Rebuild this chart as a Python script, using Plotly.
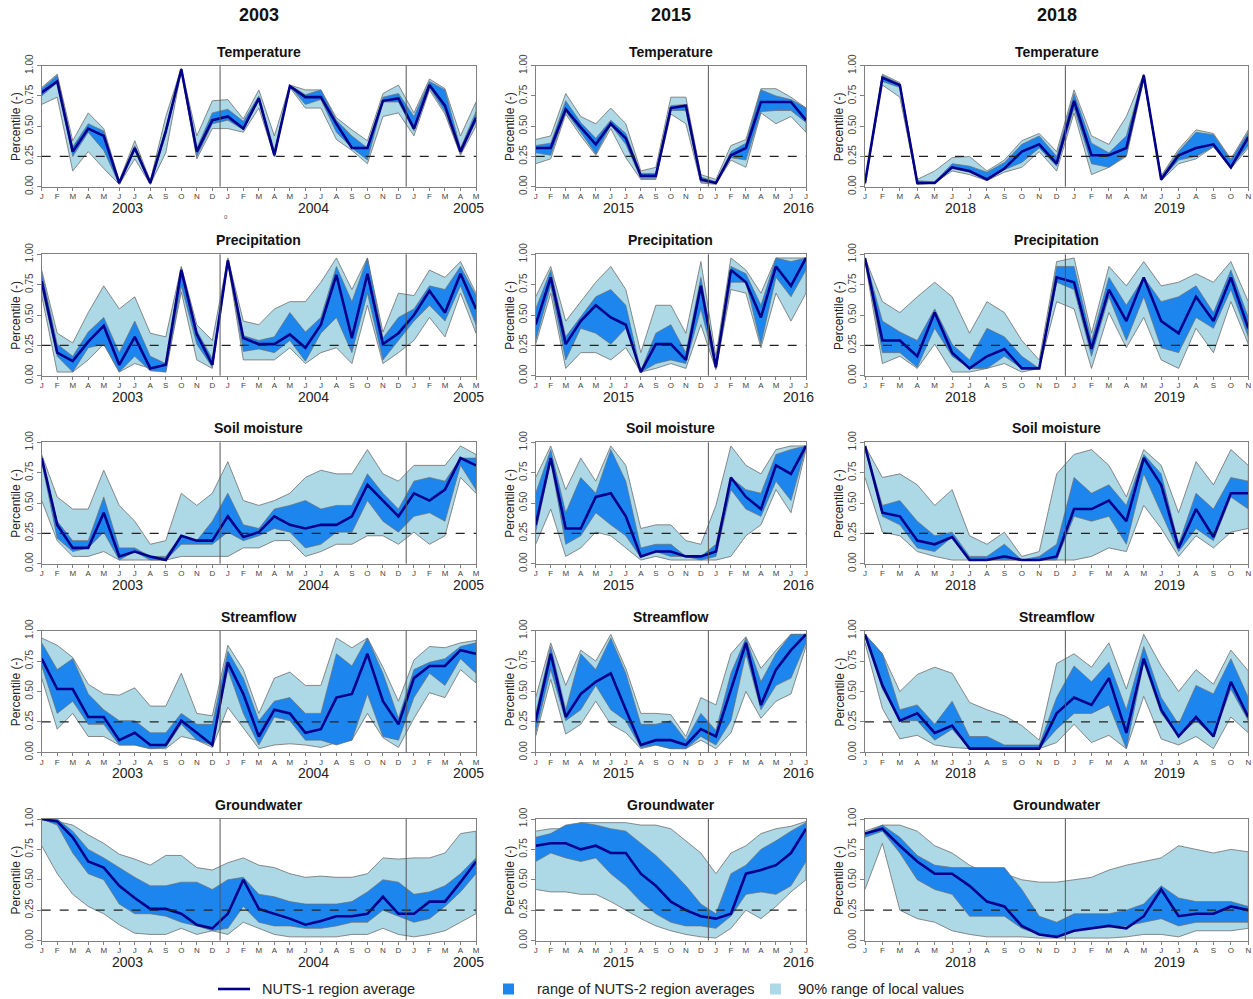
import plotly.graph_objects as go

# ---------------- month tick labels ----------------
MONTHS = list("JFMAMJJASOND")
months_2003 = MONTHS + MONTHS + list("JFMAM")
months_2015 = MONTHS + list("JFMAMJJ")
months_2018 = MONTHS + list("JFMAMJJASON")

column_years = ["2003", "2015", "2018"]
row_titles = ["Temperature", "Precipitation", "Soil moisture", "Streamflow", "Groundwater"]
year_labels_2003 = [("2003", 5.5), ("2004", 17.5), ("2005", 27.5)]
year_labels_2015 = [("2015", 5.5), ("2016", 17.5)]
year_labels_2018 = [("2018", 5.5), ("2019", 17.5)]
y_ticks = [0, 0.25, 0.5, 0.75, 1.0]
y_ticktext = ["0.00", "0.25", "0.50", "0.75", "1.00"]
threshold = 0.25

# ---------------- Temperature ----------------
temp03_avg = [0.78,0.87,0.29,0.48,0.42,0.03,0.32,0.03,0.46,0.97,0.29,0.55, 0.58,0.48,0.73,0.26,0.83,0.74,0.74,0.52,0.32,0.32,0.71,0.73, 0.48,0.84,0.67,0.29,0.57]
temp03_loc_hi = [0.82,0.93,0.38,0.61,0.48,0.05,0.38,0.05,0.58,0.98,0.42,0.71, 0.72,0.56,0.80,0.42,0.84,0.80,0.80,0.57,0.47,0.38,0.77,0.84, 0.61,0.89,0.81,0.42,0.70]
temp03_loc_lo = [0.68,0.74,0.13,0.29,0.15,0.02,0.23,0.02,0.28,0.96,0.23,0.48, 0.48,0.45,0.65,0.25,0.82,0.65,0.65,0.39,0.30,0.19,0.58,0.61, 0.42,0.80,0.60,0.26,0.50]
temp03_reg_hi = [0.81,0.92,0.33,0.52,0.46,0.04,0.34,0.04,0.48,0.97,0.32,0.61, 0.64,0.54,0.75,0.30,0.84,0.76,0.80,0.55,0.42,0.32,0.74,0.77, 0.58,0.87,0.80,0.32,0.62]
temp03_reg_lo = [0.75,0.86,0.25,0.45,0.30,0.02,0.30,0.02,0.43,0.96,0.25,0.52, 0.55,0.47,0.72,0.25,0.83,0.68,0.72,0.45,0.32,0.22,0.70,0.70, 0.46,0.82,0.62,0.27,0.54]

temp15_avg = [0.32,0.32,0.64,0.49,0.35,0.52,0.40,0.09,0.09,0.65,0.67,0.06, 0.03,0.26,0.32,0.70,0.70,0.70,0.55]
temp15_loc_hi = [0.39,0.42,0.77,0.58,0.52,0.65,0.52,0.13,0.16,0.74,0.74,0.10, 0.06,0.34,0.39,0.81,0.81,0.74,0.65]
temp15_loc_lo = [0.19,0.23,0.60,0.42,0.26,0.48,0.24,0.06,0.06,0.60,0.52,0.03, 0.02,0.22,0.16,0.61,0.52,0.58,0.45]
temp15_reg_hi = [0.34,0.36,0.71,0.53,0.40,0.55,0.44,0.11,0.11,0.67,0.68,0.08, 0.04,0.29,0.36,0.80,0.75,0.72,0.65]
temp15_reg_lo = [0.28,0.26,0.62,0.45,0.27,0.51,0.35,0.07,0.07,0.63,0.63,0.04, 0.03,0.24,0.22,0.62,0.63,0.63,0.53]

temp18_avg = [0.03,0.90,0.84,0.03,0.03,0.16,0.13,0.06,0.15,0.29,0.35,0.19, 0.71,0.26,0.26,0.32,0.92,0.06,0.26,0.32,0.35,0.16,0.41]
temp18_loc_hi = [0.04,0.93,0.86,0.06,0.13,0.24,0.25,0.13,0.22,0.38,0.44,0.29, 0.80,0.42,0.35,0.58,0.93,0.09,0.31,0.47,0.44,0.23,0.47]
temp18_loc_lo = [0.02,0.84,0.74,0.02,0.03,0.13,0.10,0.05,0.12,0.16,0.29,0.13, 0.61,0.10,0.16,0.25,0.88,0.05,0.19,0.23,0.33,0.15,0.32]
temp18_reg_hi = [0.04,0.92,0.85,0.05,0.04,0.19,0.17,0.12,0.20,0.35,0.42,0.25, 0.77,0.36,0.28,0.42,0.93,0.08,0.29,0.45,0.43,0.22,0.45]
temp18_reg_lo = [0.02,0.87,0.82,0.02,0.03,0.15,0.12,0.06,0.14,0.20,0.32,0.17, 0.65,0.19,0.16,0.26,0.90,0.06,0.22,0.25,0.33,0.16,0.34]

# ---------------- Precipitation ----------------
prec03_avg = [0.78,0.19,0.12,0.28,0.41,0.09,0.32,0.06,0.09,0.87,0.34,0.09, 0.95,0.31,0.26,0.26,0.34,0.23,0.42,0.83,0.31,0.84,0.26,0.35, 0.50,0.70,0.52,0.84,0.55]
prec03_loc_hi = [0.87,0.35,0.27,0.52,0.74,0.55,0.65,0.35,0.32,0.90,0.42,0.29, 0.97,0.45,0.42,0.55,0.61,0.61,0.77,0.97,0.71,0.97,0.36,0.68, 0.66,0.87,0.81,0.94,0.68]
prec03_loc_lo = [0.66,0.03,0.03,0.13,0.26,0.03,0.10,0.06,0.03,0.69,0.13,0.06, 0.93,0.13,0.13,0.13,0.23,0.10,0.19,0.23,0.10,0.58,0.10,0.19, 0.29,0.48,0.32,0.68,0.35]
prec03_reg_hi = [0.85,0.26,0.16,0.36,0.48,0.19,0.45,0.16,0.10,0.89,0.37,0.14, 0.96,0.33,0.29,0.32,0.52,0.36,0.48,0.90,0.61,0.97,0.31,0.48, 0.55,0.74,0.71,0.90,0.66]
prec03_reg_lo = [0.72,0.16,0.03,0.23,0.26,0.03,0.16,0.04,0.03,0.74,0.26,0.07, 0.94,0.20,0.22,0.19,0.29,0.12,0.35,0.48,0.19,0.68,0.13,0.29, 0.45,0.58,0.45,0.74,0.42]

prec15_avg = [0.42,0.81,0.26,0.45,0.58,0.48,0.42,0.03,0.26,0.26,0.13,0.74, 0.07,0.87,0.77,0.48,0.90,0.74,0.97]
prec15_loc_hi = [0.65,0.90,0.45,0.61,0.77,0.90,0.71,0.19,0.58,0.58,0.35,0.94, 0.16,0.97,0.87,0.68,0.97,0.97,0.97]
prec15_loc_lo = [0.26,0.68,0.06,0.19,0.19,0.13,0.23,0.03,0.06,0.10,0.06,0.42, 0.05,0.71,0.68,0.23,0.68,0.45,0.68]
prec15_reg_hi = [0.55,0.87,0.32,0.48,0.65,0.71,0.58,0.04,0.35,0.42,0.19,0.81, 0.10,0.90,0.84,0.58,0.97,0.94,0.97]
prec15_reg_lo = [0.29,0.74,0.13,0.39,0.35,0.26,0.39,0.03,0.10,0.13,0.10,0.55, 0.06,0.77,0.77,0.26,0.81,0.65,0.87]

prec18_avg = [0.97,0.29,0.29,0.16,0.52,0.19,0.06,0.16,0.22,0.06,0.06,0.81, 0.77,0.22,0.71,0.45,0.81,0.45,0.35,0.65,0.45,0.81,0.39]
prec18_loc_hi = [0.97,0.61,0.52,0.65,0.77,0.65,0.35,0.61,0.52,0.29,0.13,0.94, 0.97,0.35,0.90,0.74,0.94,0.74,0.77,0.84,0.77,0.94,0.61]
prec18_loc_lo = [0.94,0.10,0.16,0.06,0.26,0.03,0.03,0.06,0.10,0.03,0.06,0.61, 0.55,0.06,0.52,0.23,0.48,0.13,0.06,0.39,0.19,0.61,0.26]
prec18_reg_hi = [0.97,0.45,0.36,0.29,0.55,0.26,0.13,0.39,0.32,0.16,0.06,0.90, 0.90,0.29,0.81,0.58,0.81,0.61,0.65,0.74,0.52,0.87,0.48]
prec18_reg_lo = [0.96,0.19,0.19,0.07,0.39,0.16,0.06,0.06,0.16,0.06,0.06,0.77, 0.71,0.16,0.65,0.29,0.65,0.23,0.19,0.48,0.39,0.71,0.32]

# ---------------- Soil moisture ----------------
soil03_avg = [0.87,0.32,0.13,0.13,0.42,0.06,0.10,0.06,0.03,0.23,0.19,0.19, 0.39,0.22,0.26,0.39,0.32,0.29,0.32,0.32,0.39,0.65,0.52,0.39, 0.58,0.52,0.61,0.87,0.81]
soil03_loc_hi = [0.90,0.55,0.45,0.45,0.77,0.48,0.35,0.16,0.19,0.58,0.48,0.58, 0.84,0.52,0.48,0.52,0.58,0.71,0.77,0.74,0.74,0.94,0.74,0.68, 0.81,0.81,0.81,0.97,0.90]
soil03_loc_lo = [0.52,0.19,0.06,0.06,0.10,0.03,0.03,0.03,0.03,0.06,0.06,0.06, 0.06,0.13,0.13,0.19,0.19,0.06,0.10,0.16,0.16,0.23,0.23,0.16, 0.26,0.16,0.23,0.71,0.58]
soil03_reg_hi = [0.89,0.35,0.19,0.19,0.55,0.13,0.13,0.06,0.06,0.23,0.19,0.35, 0.58,0.32,0.29,0.45,0.48,0.52,0.45,0.48,0.48,0.74,0.58,0.45, 0.68,0.71,0.68,0.87,0.87]
soil03_reg_lo = [0.84,0.21,0.10,0.13,0.26,0.03,0.10,0.03,0.03,0.16,0.16,0.16, 0.26,0.19,0.23,0.29,0.26,0.13,0.16,0.26,0.26,0.52,0.35,0.26, 0.39,0.42,0.35,0.81,0.61]

soil15_avg = [0.32,0.87,0.29,0.29,0.55,0.58,0.39,0.06,0.10,0.10,0.06,0.06, 0.10,0.71,0.55,0.45,0.81,0.74,0.97]
soil15_loc_hi = [0.71,0.97,0.61,0.87,0.68,0.97,0.81,0.29,0.32,0.32,0.19,0.16, 0.48,0.97,0.81,0.74,0.94,0.97,0.97]
soil15_loc_lo = [0.16,0.45,0.06,0.13,0.26,0.23,0.13,0.03,0.06,0.03,0.03,0.03, 0.03,0.06,0.23,0.32,0.61,0.42,0.94]
soil15_reg_hi = [0.58,0.94,0.42,0.71,0.58,0.94,0.68,0.13,0.16,0.16,0.06,0.06, 0.16,0.71,0.61,0.58,0.90,0.94,0.97]
soil15_reg_lo = [0.26,0.84,0.16,0.23,0.42,0.32,0.23,0.05,0.10,0.06,0.06,0.03, 0.06,0.61,0.45,0.39,0.68,0.52,0.96]

soil18_avg = [0.97,0.42,0.39,0.19,0.16,0.22,0.03,0.03,0.06,0.03,0.03,0.06, 0.45,0.45,0.52,0.35,0.87,0.65,0.13,0.45,0.22,0.58,0.58]
soil18_loc_hi = [0.97,0.71,0.74,0.65,0.48,0.61,0.23,0.16,0.26,0.06,0.10,0.74, 0.90,0.94,0.81,0.55,0.94,0.81,0.42,0.84,0.65,0.94,0.81]
soil18_loc_lo = [0.71,0.26,0.23,0.10,0.06,0.03,0.03,0.03,0.03,0.03,0.03,0.03, 0.03,0.06,0.13,0.10,0.48,0.29,0.06,0.23,0.13,0.26,0.29]
soil18_reg_hi = [0.97,0.48,0.52,0.35,0.23,0.26,0.06,0.06,0.16,0.03,0.06,0.16, 0.71,0.58,0.65,0.48,0.90,0.74,0.16,0.58,0.45,0.71,0.68]
soil18_reg_lo = [0.95,0.39,0.32,0.13,0.10,0.22,0.03,0.03,0.03,0.03,0.03,0.03, 0.39,0.35,0.39,0.16,0.74,0.42,0.10,0.29,0.19,0.55,0.45]

# ---------------- Streamflow ----------------
flow03_avg = [0.77,0.52,0.52,0.29,0.29,0.10,0.16,0.06,0.06,0.26,0.16,0.06, 0.74,0.48,0.13,0.35,0.32,0.16,0.19,0.45,0.48,0.81,0.42,0.23, 0.61,0.71,0.71,0.84,0.81]
flow03_loc_hi = [0.94,0.88,0.78,0.56,0.48,0.47,0.53,0.38,0.38,0.65,0.32,0.30, 0.88,0.68,0.32,0.61,0.66,0.55,0.55,0.94,0.86,0.94,0.70,0.42, 0.76,0.87,0.86,0.90,0.92]
flow03_loc_lo = [0.61,0.19,0.32,0.13,0.13,0.06,0.06,0.03,0.03,0.13,0.10,0.04, 0.37,0.20,0.03,0.06,0.07,0.06,0.04,0.08,0.10,0.32,0.12,0.04, 0.28,0.49,0.45,0.68,0.57]
flow03_reg_hi = [0.90,0.68,0.77,0.48,0.35,0.26,0.26,0.16,0.16,0.32,0.23,0.23, 0.83,0.61,0.26,0.42,0.45,0.32,0.32,0.81,0.71,0.94,0.65,0.28, 0.68,0.74,0.77,0.87,0.90]
flow03_reg_lo = [0.71,0.32,0.42,0.23,0.23,0.06,0.06,0.03,0.04,0.23,0.10,0.06, 0.68,0.32,0.06,0.29,0.26,0.10,0.10,0.06,0.10,0.48,0.13,0.10, 0.45,0.65,0.55,0.77,0.65]

flow15_avg = [0.26,0.81,0.29,0.48,0.58,0.65,0.35,0.06,0.10,0.10,0.06,0.19, 0.13,0.52,0.90,0.39,0.68,0.84,0.97]
flow15_loc_hi = [0.45,0.90,0.55,0.84,0.75,0.97,0.69,0.32,0.32,0.31,0.13,0.45, 0.39,0.81,0.95,0.69,0.84,0.97,0.97]
flow15_loc_lo = [0.13,0.60,0.15,0.23,0.42,0.23,0.16,0.03,0.06,0.03,0.03,0.10, 0.03,0.16,0.50,0.28,0.42,0.48,0.87]
flow15_reg_hi = [0.32,0.87,0.35,0.81,0.68,0.94,0.65,0.23,0.23,0.26,0.10,0.32, 0.18,0.65,0.94,0.58,0.81,0.97,0.97]
flow15_reg_lo = [0.16,0.68,0.26,0.35,0.55,0.35,0.26,0.04,0.06,0.03,0.03,0.13, 0.06,0.26,0.81,0.35,0.55,0.61,0.90]

flow18_avg = [0.97,0.55,0.26,0.32,0.16,0.22,0.03,0.03,0.03,0.03,0.03,0.32, 0.45,0.39,0.61,0.16,0.77,0.35,0.13,0.29,0.13,0.58,0.29]
flow18_loc_hi = [0.97,0.81,0.50,0.64,0.70,0.65,0.41,0.35,0.30,0.22,0.10,0.73, 0.81,0.70,0.90,0.52,0.97,0.71,0.50,0.68,0.56,0.84,0.67]
flow18_loc_lo = [0.90,0.36,0.11,0.14,0.06,0.04,0.03,0.03,0.03,0.03,0.03,0.08, 0.23,0.08,0.14,0.03,0.46,0.11,0.06,0.13,0.03,0.29,0.16]
flow18_reg_hi = [0.97,0.81,0.35,0.39,0.23,0.42,0.13,0.13,0.06,0.06,0.06,0.45, 0.71,0.58,0.74,0.35,0.87,0.45,0.23,0.55,0.48,0.77,0.45]
flow18_reg_lo = [0.95,0.52,0.26,0.26,0.10,0.19,0.03,0.03,0.03,0.03,0.03,0.19, 0.32,0.32,0.39,0.03,0.74,0.32,0.13,0.26,0.13,0.52,0.26]

# ---------------- Groundwater ----------------
gw03_avg = [1.00,0.98,0.85,0.65,0.60,0.45,0.35,0.26,0.26,0.22,0.13,0.10, 0.22,0.50,0.26,0.22,0.18,0.13,0.16,0.20,0.20,0.22,0.36,0.22, 0.22,0.32,0.32,0.48,0.65]
gw03_loc_hi = [1.00,0.98,0.95,0.87,0.80,0.71,0.67,0.62,0.70,0.70,0.60,0.58, 0.64,0.68,0.62,0.60,0.55,0.52,0.53,0.52,0.52,0.55,0.68,0.67, 0.68,0.68,0.72,0.88,0.90]
gw03_loc_lo = [0.78,0.55,0.38,0.28,0.22,0.13,0.06,0.05,0.05,0.10,0.05,0.08, 0.05,0.15,0.10,0.05,0.03,0.03,0.03,0.03,0.05,0.05,0.10,0.05, 0.03,0.05,0.08,0.15,0.22]
gw03_reg_hi = [1.00,1.00,0.90,0.75,0.68,0.60,0.52,0.45,0.45,0.48,0.48,0.42, 0.50,0.52,0.38,0.36,0.32,0.30,0.30,0.30,0.32,0.40,0.50,0.48, 0.38,0.40,0.45,0.55,0.68]
gw03_reg_lo = [1.00,0.95,0.72,0.55,0.50,0.30,0.22,0.22,0.20,0.15,0.12,0.08, 0.10,0.28,0.15,0.12,0.12,0.10,0.10,0.12,0.15,0.15,0.25,0.20, 0.15,0.18,0.28,0.40,0.55]

gw15_avg = [0.78,0.80,0.80,0.75,0.78,0.72,0.72,0.55,0.45,0.32,0.25,0.20, 0.18,0.22,0.55,0.58,0.62,0.72,0.92]
gw15_loc_hi = [0.90,0.92,0.92,0.97,0.97,0.97,0.97,0.95,0.95,0.92,0.82,0.72, 0.55,0.72,0.78,0.88,0.92,0.94,0.98]
gw15_loc_lo = [0.42,0.40,0.40,0.38,0.38,0.32,0.25,0.18,0.12,0.08,0.05,0.03, 0.02,0.10,0.25,0.18,0.28,0.40,0.50]
gw15_reg_hi = [0.85,0.88,0.95,0.97,0.95,0.92,0.90,0.80,0.70,0.58,0.45,0.30, 0.22,0.55,0.62,0.75,0.82,0.90,0.97]
gw15_reg_lo = [0.65,0.72,0.68,0.65,0.68,0.55,0.45,0.32,0.22,0.15,0.12,0.12, 0.10,0.20,0.38,0.40,0.38,0.45,0.65]

gw18_avg = [0.88,0.92,0.78,0.65,0.55,0.55,0.45,0.32,0.28,0.12,0.05,0.03, 0.08,0.10,0.12,0.10,0.20,0.42,0.20,0.22,0.22,0.28,0.25]
gw18_loc_hi = [0.90,0.95,0.95,0.90,0.78,0.72,0.62,0.55,0.55,0.50,0.48,0.48, 0.50,0.52,0.58,0.62,0.65,0.68,0.78,0.75,0.72,0.75,0.73]
gw18_loc_lo = [0.42,0.80,0.25,0.18,0.15,0.08,0.05,0.03,0.03,0.03,0.02,0.02, 0.02,0.02,0.02,0.03,0.05,0.05,0.03,0.08,0.08,0.08,0.10]
gw18_reg_hi = [0.88,0.95,0.85,0.70,0.62,0.60,0.60,0.60,0.60,0.42,0.20,0.15, 0.22,0.22,0.22,0.25,0.30,0.45,0.35,0.32,0.32,0.32,0.28]
gw18_reg_lo = [0.85,0.90,0.72,0.50,0.42,0.38,0.20,0.20,0.20,0.10,0.05,0.03, 0.08,0.10,0.12,0.12,0.15,0.18,0.12,0.15,0.15,0.15,0.15]

# ---------------- assemble ----------------
panels = [
    [(temp03_avg, temp03_loc_hi, temp03_loc_lo, temp03_reg_hi, temp03_reg_lo),
     (temp15_avg, temp15_loc_hi, temp15_loc_lo, temp15_reg_hi, temp15_reg_lo),
     (temp18_avg, temp18_loc_hi, temp18_loc_lo, temp18_reg_hi, temp18_reg_lo)],
    [(prec03_avg, prec03_loc_hi, prec03_loc_lo, prec03_reg_hi, prec03_reg_lo),
     (prec15_avg, prec15_loc_hi, prec15_loc_lo, prec15_reg_hi, prec15_reg_lo),
     (prec18_avg, prec18_loc_hi, prec18_loc_lo, prec18_reg_hi, prec18_reg_lo)],
    [(soil03_avg, soil03_loc_hi, soil03_loc_lo, soil03_reg_hi, soil03_reg_lo),
     (soil15_avg, soil15_loc_hi, soil15_loc_lo, soil15_reg_hi, soil15_reg_lo),
     (soil18_avg, soil18_loc_hi, soil18_loc_lo, soil18_reg_hi, soil18_reg_lo)],
    [(flow03_avg, flow03_loc_hi, flow03_loc_lo, flow03_reg_hi, flow03_reg_lo),
     (flow15_avg, flow15_loc_hi, flow15_loc_lo, flow15_reg_hi, flow15_reg_lo),
     (flow18_avg, flow18_loc_hi, flow18_loc_lo, flow18_reg_hi, flow18_reg_lo)],
    [(gw03_avg, gw03_loc_hi, gw03_loc_lo, gw03_reg_hi, gw03_reg_lo),
     (gw15_avg, gw15_loc_hi, gw15_loc_lo, gw15_reg_hi, gw15_reg_lo),
     (gw18_avg, gw18_loc_hi, gw18_loc_lo, gw18_reg_hi, gw18_reg_lo)],
]
col_months = [months_2003, months_2015, months_2018]
col_yearlabels = [year_labels_2003, year_labels_2015, year_labels_2018]

# ---------------- layout geometry (pixels) ----------------
W, H = 1253, 999
col_px = [(41.7, 476.0), (535.7, 806.0), (865.0, 1248.3)]
row_px = [(65.7, 186.7), (254.3, 375.7), (442.3, 563.7), (630.7, 752.3), (819.0, 940.5)]
FONT = "Liberation Sans, Arial, sans-serif"
LIGHT = "#ADD8E6"
DARK = "#1C86EE"
NAVY = "#00008B"
OUTLINE = "#6E6E6E"
AXCOL = "#808080"

def px(x):
    return x / W

def py(y):
    return 1 - y / H

fig = go.Figure()
layout = dict(
    width=W, height=H, margin=dict(l=0, r=0, t=0, b=0, pad=0, autoexpand=False),
    paper_bgcolor="white", plot_bgcolor="white",
    showlegend=False, font=dict(family=FONT, color="#222"),
)
annotations = []
shapes = []

for r in range(5):
    for c in range(3):
        k = r * 3 + c + 1
        xa = "x" if k == 1 else f"x{k}"
        ya = "y" if k == 1 else f"y{k}"
        avg, lhi, llo, rhi, rlo = panels[r][c]
        months = col_months[c]
        n = len(months)
        xs = list(range(n))
        # 90% range of local values
        fig.add_trace(go.Scatter(
            x=xs + xs[::-1], y=lhi + llo[::-1], xaxis=xa, yaxis=ya,
            mode="lines", fill="toself", fillcolor=LIGHT,
            line=dict(color=OUTLINE, width=0.8), hoverinfo="skip"))
        # range of NUTS-2 region averages
        fig.add_trace(go.Scatter(
            x=xs + xs[::-1], y=rhi + rlo[::-1], xaxis=xa, yaxis=ya,
            mode="lines", fill="toself", fillcolor=DARK,
            line=dict(color=OUTLINE, width=0.7), hoverinfo="skip"))
        # NUTS-1 region average
        fig.add_trace(go.Scatter(
            x=xs, y=avg, xaxis=xa, yaxis=ya, mode="lines",
            line=dict(color=NAVY, width=2.6)))

        x0, x1 = col_px[c]
        y0, y1 = row_px[r]
        axkey = "xaxis" if k == 1 else f"xaxis{k}"
        aykey = "yaxis" if k == 1 else f"yaxis{k}"
        layout[axkey] = dict(
            domain=[px(x0), px(x1)], anchor=ya, range=[0, n - 1], automargin=False,
            tickmode="array", tickvals=xs, ticktext=months,
            tickfont=dict(size=8, color="#444", family=FONT),
            ticks="outside", ticklen=3, tickcolor=AXCOL, tickwidth=1,
            ticklabelstandoff=-1,
            showline=True, mirror=True, linecolor=AXCOL, linewidth=1,
            showgrid=False, zeroline=False, fixedrange=True)
        layout[aykey] = dict(
            domain=[py(y1), py(y0)], anchor=xa, range=[0, 1], automargin=False,
            tickmode="array", tickvals=y_ticks, ticktext=y_ticktext,
            tickangle=-90, tickfont=dict(size=10, color="#444", family=FONT),
            ticks="outside", ticklen=4, tickcolor=AXCOL, tickwidth=1,
            showline=True, mirror=True, linecolor=AXCOL, linewidth=1,
            showgrid=False, zeroline=False, fixedrange=True)

        # threshold line
        shapes.append(dict(type="line", xref=f"{xa} domain", yref=ya,
                           x0=0, x1=1, y0=threshold, y1=threshold,
                           line=dict(color="#222", width=1.2, dash="dash"),
                           layer="above"))
        # year boundaries
        for b in range(12, n, 12):
            shapes.append(dict(type="line", xref=xa, yref=f"{ya} domain",
                               x0=b - 0.5, x1=b - 0.5, y0=0, y1=1,
                               line=dict(color="#555", width=1), layer="above"))
        # panel title
        annotations.append(dict(text=f"<b>{row_titles[r]}</b>", xref="paper", yref="paper",
                                x=px((x0 + x1) / 2), y=py(y0 - 14), showarrow=False,
                                font=dict(size=14, color="#111", family=FONT),
                                xanchor="center", yanchor="middle"))
        # y-axis title
        annotations.append(dict(text="Percentile (-)", xref="paper", yref="paper",
                                x=px(x0 - 26), y=py((y0 + y1) / 2), showarrow=False,
                                textangle=-90, font=dict(size=12, color="#222", family=FONT),
                                xanchor="center", yanchor="middle"))
        # year labels below axis
        for lab, pos in col_yearlabels[c]:
            annotations.append(dict(text=lab, xref=xa, yref="paper", x=pos,
                                    y=py(y1 + 21), showarrow=False,
                                    font=dict(size=14, color="#222", family=FONT),
                                    xanchor="center", yanchor="middle"))

# column headers
for c, yr in enumerate(column_years):
    x0, x1 = col_px[c]
    annotations.append(dict(text=f"<b>{yr}</b>", xref="paper", yref="paper",
                            x=px((x0 + x1) / 2), y=py(15), showarrow=False,
                            font=dict(size=18, color="#111", family=FONT),
                            xanchor="center", yanchor="middle"))

# small stray mark under first panel
annotations.append(dict(text="0", xref="paper", yref="paper", x=px(222), y=py(212),
                        showarrow=False, font=dict(size=6, color="#555", family=FONT)))

# legend (drawn manually)
ly = 989
shapes.append(dict(type="line", xref="paper", yref="paper", x0=px(218), x1=px(250),
                   y0=py(ly), y1=py(ly), line=dict(color=NAVY, width=2.6)))
shapes.append(dict(type="rect", xref="paper", yref="paper", x0=px(503), x1=px(514),
                   y0=py(ly - 5.5), y1=py(ly + 5.5), fillcolor=DARK, line=dict(width=0)))
shapes.append(dict(type="rect", xref="paper", yref="paper", x0=px(770), x1=px(781),
                   y0=py(ly - 5.5), y1=py(ly + 5.5), fillcolor=LIGHT, line=dict(width=0)))
for txt, xx in [("NUTS-1 region average", 260), ("range of NUTS-2 region averages", 535),
                ("90% range of local values", 796)]:
    annotations.append(dict(text=txt, xref="paper", yref="paper", x=px(xx), y=py(ly),
                            showarrow=False, xanchor="left", yanchor="middle",
                            font=dict(size=14.5, color="#222", family=FONT)))

layout["annotations"] = annotations
layout["shapes"] = shapes
fig.update_layout(**layout)
fig.write_html("out.html", config={"displayModeBar": False},
               post_script="document.body.style.margin='0';document.body.style.overflow='hidden';")
